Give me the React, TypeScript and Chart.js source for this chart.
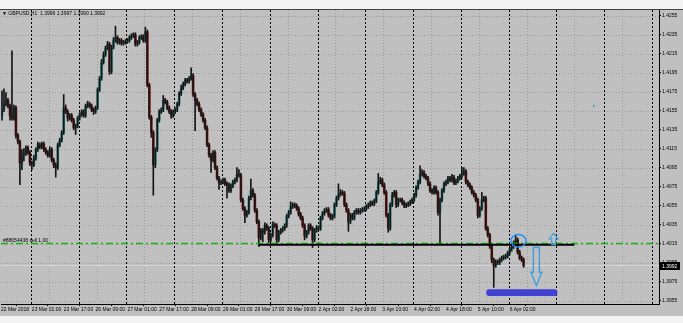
import React, { useEffect, useRef } from "react";
import { Chart, registerables } from "chart.js";
Chart.register(...registerables);

// ---------- data (GBPUSD, H1) ----------
const firstOpen = 1.415;
const closes = [
  1.4156, 1.4162, 1.4166, 1.416, 1.415, 1.4147, 1.4158, 1.4129, 1.4122, 1.41,
  1.4108, 1.411, 1.4116, 1.4111, 1.41, 1.4098, 1.4105, 1.4114, 1.4119, 1.4117,
  1.412, 1.4114, 1.4111, 1.4108, 1.4114, 1.4103, 1.4098, 1.4095, 1.4119, 1.4124,
  1.4132, 1.4158, 1.4154, 1.4147, 1.415, 1.4145, 1.4137, 1.4139, 1.4147, 1.4151,
  1.4154, 1.415, 1.416, 1.4162, 1.416, 1.4156, 1.4154, 1.4158, 1.4177, 1.4189,
  1.4206, 1.4214, 1.4221, 1.4225, 1.4196, 1.4222, 1.4229, 1.4232, 1.4227, 1.4229,
  1.4226, 1.4227, 1.4228, 1.4229, 1.4232, 1.4234, 1.4235, 1.4225, 1.4227, 1.4232,
  1.4233, 1.4229, 1.4238, 1.4182, 1.4148, 1.4132, 1.4098, 1.4114, 1.4145, 1.4154,
  1.4156, 1.4166, 1.4164, 1.4158, 1.4154, 1.415, 1.4154, 1.4156, 1.4162, 1.4173,
  1.4179, 1.4183, 1.4187, 1.4186, 1.4189, 1.4192, 1.4172, 1.4166, 1.4162, 1.4156,
  1.4151, 1.4145, 1.4137, 1.4119, 1.4108, 1.4103, 1.4111, 1.4095, 1.4084, 1.4079,
  1.408, 1.4082, 1.4078, 1.4077, 1.4071, 1.4076, 1.408, 1.4082, 1.4088, 1.4087,
  1.4061, 1.4052, 1.4045, 1.4048, 1.4063, 1.4071, 1.4066, 1.405, 1.4038, 1.4021,
  1.4029, 1.4027, 1.4034, 1.4031, 1.4019, 1.4024, 1.4035, 1.4034, 1.4019, 1.4027,
  1.4029, 1.4031, 1.4034, 1.4044, 1.4048, 1.4054, 1.4056, 1.4055, 1.4052, 1.4046,
  1.4042, 1.4034, 1.4023, 1.4027, 1.4034, 1.4031, 1.4019, 1.4029, 1.4032, 1.4031,
  1.4042, 1.4047, 1.405, 1.4051, 1.4045, 1.4042, 1.4044, 1.4056, 1.4063, 1.4067,
  1.4069, 1.4068, 1.4056, 1.405, 1.4038, 1.4045, 1.4042, 1.4048, 1.405, 1.4048,
  1.405, 1.4051, 1.4052, 1.4054, 1.4056, 1.4058, 1.4057, 1.406, 1.4069, 1.408,
  1.4082, 1.4077, 1.4069, 1.4045, 1.4031, 1.4056, 1.4066, 1.4069, 1.4056, 1.4061,
  1.4061, 1.4058, 1.4055, 1.4056, 1.4057, 1.4059, 1.4061, 1.4066, 1.4074, 1.408,
  1.4088, 1.409, 1.4086, 1.4084, 1.4078, 1.4071, 1.4069, 1.4074, 1.4069, 1.4048,
  1.4061, 1.4071, 1.4078, 1.408, 1.4084, 1.4082, 1.4085, 1.4079, 1.4081, 1.4084,
  1.4086, 1.4089, 1.4091, 1.408, 1.4077, 1.4074, 1.4069, 1.4066, 1.4061, 1.4045,
  1.4052, 1.4061, 1.4063, 1.4031, 1.4024, 1.4012, 1.3998, 1.3992, 1.3996, 1.3995,
  1.3998, 1.4, 1.4001, 1.4002, 1.4005, 1.4009, 1.4012, 1.4015, 1.4019, 1.4006,
  1.4, 1.3998, 1.3992,
];
// wick lengths above / below the body, in pips
const wickUp = [
  20, 16, 8, 2, 2, 68, 3, 2, 2, 2,
  6, 5, 2, 2, 2, 2, 3, 2, 3, 2,
  2, 2, 2, 2, 3, 2, 2, 2, 2, 2,
  2, 14, 3, 2, 2, 2, 2, 2, 2, 2,
  2, 2, 2, 3, 2, 2, 2, 2, 2, 2,
  3, 3, 2, 3, 2, 2, 3, 12, 2, 2,
  2, 2, 2, 2, 2, 2, 2, 2, 2, 2,
  2, 2, 5, 2, 2, 2, 2, 2, 2, 2,
  2, 5, 2, 2, 2, 2, 2, 2, 2, 2,
  3, 2, 2, 2, 2, 8, 2, 2, 2, 2,
  2, 2, 2, 2, 2, 2, 2, 2, 2, 2,
  2, 2, 2, 2, 2, 2, 2, 2, 7, 5,
  2, 2, 2, 2, 2, 12, 2, 2, 2, 2,
  2, 2, 3, 2, 2, 2, 3, 2, 2, 2,
  2, 2, 2, 2, 2, 5, 2, 2, 2, 2,
  2, 2, 2, 2, 2, 2, 2, 2, 2, 2,
  2, 2, 2, 2, 2, 2, 2, 2, 2, 11,
  3, 2, 2, 2, 2, 2, 2, 2, 2, 2,
  2, 2, 2, 2, 2, 2, 2, 2, 2, 9,
  3, 2, 2, 2, 2, 2, 3, 2, 2, 2,
  2, 2, 2, 2, 2, 2, 2, 2, 2, 2,
  9, 3, 2, 2, 2, 2, 2, 2, 2, 2,
  2, 2, 2, 2, 2, 2, 3, 2, 2, 2,
  2, 6, 4, 2, 2, 2, 2, 2, 2, 2,
  2, 8, 2, 2, 2, 2, 2, 2, 2, 2,
  2, 2, 2, 2, 2, 2, 2, 3, 5, 2,
  2, 2, 2,
];
const wickDown = [
  5, 2, 2, 2, 5, 2, 2, 3, 2, 23,
  7, 6, 2, 2, 3, 5, 2, 2, 2, 2,
  2, 2, 2, 2, 2, 2, 3, 10, 2, 2,
  2, 2, 2, 3, 2, 2, 2, 7, 2, 2,
  2, 2, 2, 2, 2, 2, 3, 2, 2, 2,
  2, 2, 2, 2, 3, 2, 2, 2, 2, 2,
  2, 2, 2, 2, 2, 2, 2, 2, 2, 2,
  2, 2, 2, 2, 2, 5, 32, 3, 2, 2,
  2, 2, 2, 2, 2, 3, 2, 2, 2, 2,
  2, 2, 2, 2, 2, 2, 2, 32, 2, 2,
  2, 2, 2, 2, 2, 13, 2, 2, 2, 7,
  2, 2, 2, 14, 2, 2, 2, 2, 2, 2,
  2, 2, 8, 2, 2, 2, 2, 2, 2, 9,
  2, 10, 2, 2, 3, 2, 2, 2, 5, 2,
  2, 2, 2, 2, 2, 2, 2, 2, 2, 2,
  2, 2, 4, 2, 2, 2, 8, 2, 2, 2,
  2, 2, 2, 2, 2, 2, 2, 2, 2, 2,
  2, 2, 2, 2, 10, 2, 2, 2, 2, 2,
  2, 2, 2, 2, 2, 2, 2, 2, 2, 2,
  2, 2, 2, 2, 4, 2, 2, 2, 3, 2,
  2, 2, 2, 2, 2, 2, 2, 2, 2, 2,
  2, 2, 2, 2, 2, 2, 2, 2, 2, 3,
  33, 2, 2, 2, 2, 2, 2, 2, 2, 2,
  2, 2, 2, 2, 2, 2, 2, 2, 2, 3,
  2, 2, 2, 2, 2, 2, 3, 23, 2, 2,
  2, 2, 2, 2, 2, 2, 2, 2, 2, 2,
  2, 2, 2,
];
const PIP = 0.0001;

const priceTicks = [
  1.3955, 1.3975, 1.3995, 1.4015, 1.4035, 1.4055, 1.4075, 1.4095,
  1.4115, 1.4135, 1.4155, 1.4175, 1.4195, 1.4215, 1.4235, 1.4255,
];
const timeTickBars = [-0.5, 15, 31, 47, 63, 79, 95, 111, 127, 143, 159, 175, 191, 207, 223, 239, 255];
const timeTickLabels = [
  "22 Mar 2018", "23 Mar 01:00", "23 Mar 17:00", "26 Mar 09:00", "27 Mar 01:00",
  "27 Mar 17:00", "28 Mar 09:00", "29 Mar 01:00", "29 Mar 17:00", "30 Mar 09:00",
  "2 Apr 02:00", "2 Apr 18:00", "3 Apr 10:00", "4 Apr 02:00", "4 Apr 18:00",
  "5 Apr 10:00", "6 Apr 02:00",
];
const daySeparatorBars = [14.5, 38.5, 62.5, 86.5, 110.5, 134.5, 158.5, 182.5, 206.5, 230.5, 254.5, 278.5, 302.5, 326.5];
const gridBars = [23.5, 47.5, 71.5, 95.5, 119.5, 143.5, 167.5, 191.5, 215.5, 239.5, 263.5, 287.5, 311.5];

const symbolHeader = "▼ GBPUSD,H1  1.3996 1.3997 1.3990 1.3992";
const orderLabel = "#88654438 sell 1.00";
const orderPrice = 1.40152;
const supportPrice = 1.4014;
const supportFromBar = 129;
const supportToBar = 287.5;
const bidPrice = 1.3992;
const bidLabel = "1.3992";

const circleMark = { bar: 259.4, price: 1.4018 };
const upArrow = { bar: 277.1, top: 1.4026, headBase: 1.402, bottom: 1.4014 };
const downArrow = { bar: 268.4, top: 1.4011, headBase: 1.3985, tip: 1.3971 };
const targetZone = { fromBar: 243.2, toBar: 279.0, top: 1.3967, bottom: 1.396 };
const dotMark = { bar: 296.9, price: 1.4161 };

const X_MIN = -0.5;
const X_MAX = 330;
const Y_MIN = 1.39515;
const Y_MAX = 1.4261;

// ---------- styles ----------
const BULL = "#2a8a8a";
const BEAR = "#8a1a1a";
const DOJI = "#9a9ae0";
const WICK = "#151515";
const FONT = "'Liberation Sans', Arial, sans-serif";

const mtPlugin: any = {
  id: "mt4look",
  beforeDraw(chart: any) {
    const { ctx, chartArea: a, scales } = chart;
    const xs = scales.x;
    const ys = scales.y;
    ctx.save();
    ctx.fillStyle = "#f4f4f4";
    ctx.fillRect(0, 0, chart.width, chart.height);
    ctx.fillStyle = "#c0c0c0";
    ctx.fillRect(0, a.top, chart.width, a.bottom + 12 - a.top);
    // horizontal grid
    ctx.lineWidth = 1;
    ctx.strokeStyle = "#9c9c9c";
    ctx.setLineDash([1, 2]);
    priceTicks.forEach((p) => {
      const yy = Math.round(ys.getPixelForValue(p)) + 0.5;
      ctx.beginPath();
      ctx.moveTo(a.left, yy);
      ctx.lineTo(a.right, yy);
      ctx.stroke();
    });
    gridBars.forEach((b) => {
      const xx = Math.round(xs.getPixelForValue(b)) + 0.5;
      ctx.beginPath();
      ctx.moveTo(xx, a.top);
      ctx.lineTo(xx, a.bottom);
      ctx.stroke();
    });
    // day separators
    ctx.strokeStyle = "#000";
    ctx.setLineDash([2, 2]);
    daySeparatorBars.forEach((b) => {
      const xx = Math.round(xs.getPixelForValue(b)) + 0.5;
      ctx.beginPath();
      ctx.moveTo(xx, a.top);
      ctx.lineTo(xx, a.bottom);
      ctx.stroke();
    });
    ctx.setLineDash([]);
    // top frame line
    ctx.strokeStyle = "#444";
    ctx.beginPath();
    ctx.moveTo(0, a.top - 0.5);
    ctx.lineTo(chart.width, a.top - 0.5);
    ctx.stroke();
    ctx.restore();
  },
  afterDatasetsDraw(chart: any) {
    const { ctx, chartArea: a, scales } = chart;
    const px = (b: number) => scales.x.getPixelForValue(b);
    const py = (p: number) => scales.y.getPixelForValue(p);
    ctx.save();
    // header
    ctx.fillStyle = "#000";
    ctx.font = `5px ${FONT}`;
    ctx.textBaseline = "middle";
    ctx.textAlign = "left";
    ctx.fillText(symbolHeader, 2, a.top + 4);
    // order label
    ctx.textBaseline = "bottom";
    ctx.fillText(orderLabel, 3, py(orderPrice) - 0.5);
    // target zone
    const zx1 = px(targetZone.fromBar);
    const zx2 = px(targetZone.toBar);
    const zy1 = py(targetZone.top);
    const zy2 = py(targetZone.bottom);
    ctx.fillStyle = "#4242d2";
    ctx.beginPath();
    const r = 3;
    ctx.moveTo(zx1 + r, zy1);
    ctx.lineTo(zx2 - r, zy1);
    ctx.quadraticCurveTo(zx2, zy1, zx2, zy1 + r);
    ctx.lineTo(zx2, zy2 - r);
    ctx.quadraticCurveTo(zx2, zy2, zx2 - r, zy2);
    ctx.lineTo(zx1 + r, zy2);
    ctx.quadraticCurveTo(zx1, zy2, zx1, zy2 - r);
    ctx.lineTo(zx1, zy1 + r);
    ctx.quadraticCurveTo(zx1, zy1, zx1 + r, zy1);
    ctx.fill();
    // circle
    ctx.strokeStyle = "#1e90ff";
    ctx.lineWidth = 1.4;
    ctx.beginPath();
    ctx.ellipse(px(circleMark.bar), py(circleMark.price), 7.5, 6.3, 0, 0, Math.PI * 2);
    ctx.stroke();
    // up arrow (hollow)
    ctx.strokeStyle = "#3a9ee0";
    ctx.lineWidth = 1.1;
    {
      const cx = px(upArrow.bar);
      const t = py(upArrow.top);
      const hb = py(upArrow.headBase);
      const bt = py(upArrow.bottom);
      const hw = 4.5;
      const sw = 2;
      ctx.beginPath();
      ctx.moveTo(cx, t);
      ctx.lineTo(cx + hw, hb);
      ctx.lineTo(cx + sw, hb);
      ctx.lineTo(cx + sw, bt);
      ctx.lineTo(cx - sw, bt);
      ctx.lineTo(cx - sw, hb);
      ctx.lineTo(cx - hw, hb);
      ctx.closePath();
      ctx.stroke();
    }
    // down arrow (hollow)
    ctx.lineWidth = 1.4;
    {
      const cx = px(downArrow.bar);
      const t = py(downArrow.top);
      const hb = py(downArrow.headBase);
      const tip = py(downArrow.tip);
      const hw = 5.5;
      const sw = 3;
      ctx.beginPath();
      ctx.moveTo(cx - sw, t);
      ctx.lineTo(cx + sw, t);
      ctx.lineTo(cx + sw, hb);
      ctx.lineTo(cx + hw, hb);
      ctx.lineTo(cx, tip);
      ctx.lineTo(cx - hw, hb);
      ctx.lineTo(cx - sw, hb);
      ctx.closePath();
      ctx.stroke();
    }
    // small dot
    ctx.fillStyle = "#3fb4c4";
    ctx.fillRect(Math.round(px(dotMark.bar)), Math.round(py(dotMark.price)), 2, 2);
    ctx.restore();
  },
  afterDraw(chart: any) {
    const { ctx, chartArea: a, scales } = chart;
    const yy = Math.round(scales.y.getPixelForValue(bidPrice));
    ctx.save();
    ctx.fillStyle = "#000";
    ctx.fillRect(a.right + 1, yy - 4, 20, 8);
    ctx.fillStyle = "#fff";
    ctx.font = `5px ${FONT}`;
    ctx.textBaseline = "middle";
    ctx.textAlign = "left";
    ctx.fillText(bidLabel, a.right + 3, yy + 0.5);
    ctx.restore();
  },
};

export default function App() {
  const ref = useRef<HTMLCanvasElement>(null);
  useEffect(() => {
    const canvas = ref.current;
    if (!canvas) return;
    const opens = closes.map((c, i) => (i === 0 ? firstOpen : closes[i - 1]));
    const highs = closes.map((c, i) => Math.max(opens[i], c) + wickUp[i] * PIP);
    const lows = closes.map((c, i) => Math.min(opens[i], c) - wickDown[i] * PIP);
    const bodies = closes.map((c, i) => ({ x: i, y: [opens[i], c] }));
    const wicks = closes.map((c, i) => ({ x: i, y: [lows[i], highs[i]] }));
    const bodyColors = closes.map((c, i) => (c > opens[i] ? BULL : c < opens[i] ? BEAR : DOJI));

    const chart = new Chart(canvas, {
      type: "bar",
      data: {
        datasets: [
          {
            type: "line",
            data: [
              { x: supportFromBar, y: supportPrice },
              { x: supportToBar, y: supportPrice },
            ],
            borderColor: "#000",
            borderWidth: 2,
            pointRadius: 0,
          },
          {
            type: "line",
            data: [
              { x: X_MIN, y: orderPrice },
              { x: X_MAX, y: orderPrice },
            ],
            borderColor: "#19b019",
            borderWidth: 1.3,
            borderDash: [7, 3, 2, 3],
            pointRadius: 0,
          },
          {
            type: "bar",
            data: wicks,
            backgroundColor: WICK,
            barThickness: 1,
            grouped: false,
            borderWidth: 0,
            borderSkipped: false,
          },
          {
            type: "bar",
            data: bodies,
            backgroundColor: bodyColors,
            barThickness: 2,
            grouped: false,
            minBarLength: 1,
            borderWidth: 0,
            borderSkipped: false,
          },
          {
            type: "line",
            data: [
              { x: X_MIN, y: bidPrice },
              { x: X_MAX, y: bidPrice },
            ],
            borderColor: "#d6d6d6",
            borderWidth: 1,
            pointRadius: 0,
          },
        ] as any,
      },
      options: {
        animation: false,
        responsive: false,
        devicePixelRatio: 1,
        events: [],
        layout: { padding: { top: 10, left: 0, right: 0, bottom: 0 } },
        plugins: { legend: { display: false }, tooltip: { enabled: false } },
        scales: {
          x: {
            type: "linear",
            position: "bottom",
            min: X_MIN,
            max: X_MAX,
            offset: false,
            grid: { drawOnChartArea: false, drawTicks: true, tickLength: 2, color: "#000" },
            border: { display: true, color: "#000", width: 1 },
            ticks: {
              autoSkip: false,
              maxRotation: 0,
              minRotation: 0,
              align: "start",
              padding: 1,
              color: "#000",
              font: { family: FONT, size: 5 },
              callback: (_v: any, i: number) => timeTickLabels[i],
            },
            afterBuildTicks: (s: any) => {
              s.ticks = timeTickBars.map((v) => ({ value: v }));
            },
            afterFit: (s: any) => {
              s.height = 19;
            },
          },
          y: {
            type: "linear",
            position: "right",
            min: Y_MIN,
            max: Y_MAX,
            beginAtZero: false,
            grid: { drawOnChartArea: false, drawTicks: true, tickLength: 2, color: "#000" },
            border: { display: true, color: "#000", width: 1 },
            ticks: {
              autoSkip: false,
              padding: 1,
              color: "#000",
              font: { family: FONT, size: 5 },
              callback: (v: any) => Number(v).toFixed(4),
            },
            afterBuildTicks: (s: any) => {
              s.ticks = priceTicks.map((v) => ({ value: v }));
            },
            afterFit: (s: any) => {
              s.width = 24;
            },
          },
        },
      } as any,
      plugins: [mtPlugin],
    });
    return () => chart.destroy();
  }, []);
  return (
    <div style={{ position: "absolute", left: 0, top: 0, width: 683, height: 323 }}>
      <canvas ref={ref} width={683} height={323} style={{ display: "block", width: 683, height: 323 }} />
    </div>
  );
}
